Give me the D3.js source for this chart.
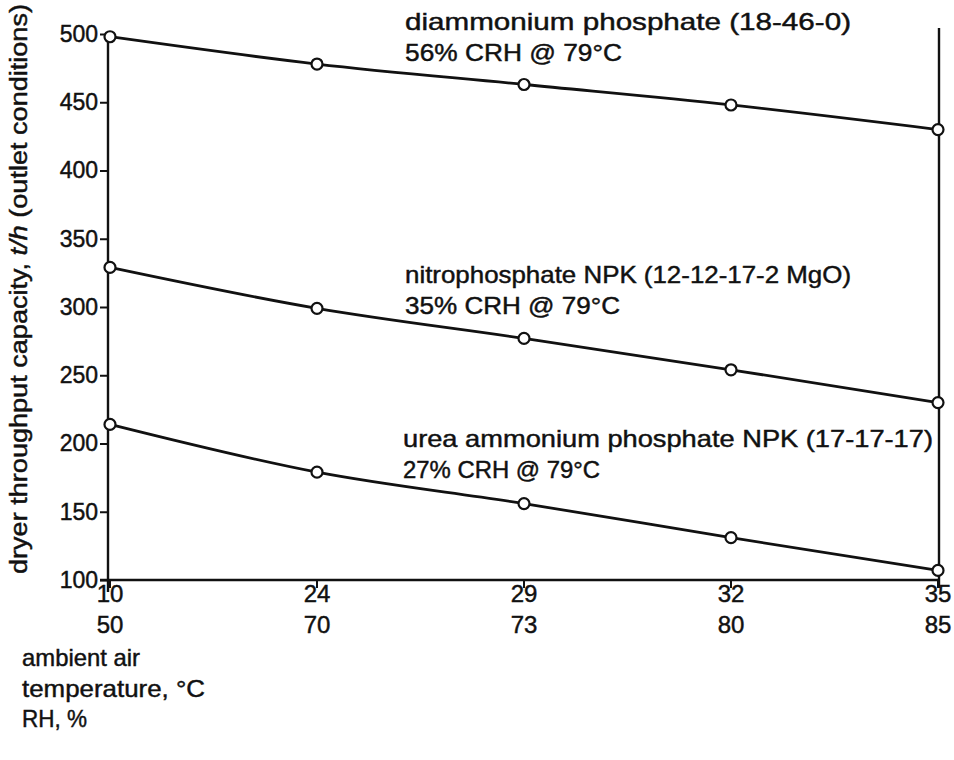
<!DOCTYPE html>
<head>
<meta charset="utf-8">
<title>Dryer throughput capacity</title>
<style>
  body { margin: 0; background: #fff; }
  text { font-family: "Liberation Sans", Arial, sans-serif; fill: #111; stroke: #111; stroke-width: 0.45px; }
</style>
</head>
<body>
<script src="https://d3js.org/d3.v7.min.js"></script>
<script>
// data
let tempLabels = ["10", "24", "29", "32", "35"];
let rhLabels = ["50", "70", "73", "80", "85"];
let yTicks = [100, 150, 200, 250, 300, 350, 400, 450, 500];

let diammonium = [498, 478, 463, 448, 430];
let nitrophosphate = [329, 299, 277, 254, 230];
let ureaAmmonium = [214, 179, 156, 131, 107];

let seriesNames = [
  ["diammonium phosphate (18-46-0)", "56% CRH @ 79°C"],
  ["nitrophosphate NPK (12-12-17-2 MgO)", "35% CRH @ 79°C"],
  ["urea ammonium phosphate NPK (17-17-17)", "27% CRH @ 79°C"]
];

let width = 954, height = 760;
let svg = d3.select("body").append("svg")
  .attr("width", width)
  .attr("height", height);

let x = d3.scalePoint()
  .domain(tempLabels)
  .range([110, 938]);

let y = d3.scaleLinear()
  .domain([100, 500])
  .range([580, 34]);

// left axis
let yAxis = svg.append("g")
  .attr("transform", "translate(108,0)")
  .call(d3.axisLeft(y).tickValues(yTicks).tickSize(8).tickPadding(2));
yAxis.select(".domain").remove();
yAxis.selectAll("line").attr("stroke", "#111").attr("stroke-width", 2);
yAxis.selectAll("text")
  .style("font-size", "23px")
  .attr("fill", "#111")
  .text(d => d);

svg.append("line")
  .attr("x1", 108).attr("x2", 108)
  .attr("y1", y(500) + 8).attr("y2", y(100) + 12)
  .attr("stroke", "#111").attr("stroke-width", 2.4);

// right border line
svg.append("line")
  .attr("x1", 939).attr("x2", 939)
  .attr("y1", 28).attr("y2", y(100) + 8)
  .attr("stroke", "#111").attr("stroke-width", 2.4);

// bottom axis
svg.append("line")
  .attr("x1", 100).attr("x2", 939)
  .attr("y1", y(100)).attr("y2", y(100))
  .attr("stroke", "#111").attr("stroke-width", 2.4);

svg.selectAll(".xtick")
  .data(tempLabels)
  .join("line")
  .attr("class", "xtick")
  .attr("x1", d => x(d)).attr("x2", d => x(d))
  .attr("y1", y(100)).attr("y2", y(100) + 8)
  .attr("stroke", "#111").attr("stroke-width", 2);

svg.selectAll(".xlab1")
  .data(tempLabels)
  .join("text")
  .attr("class", "xlab1")
  .attr("x", d => x(d))
  .attr("y", 602)
  .attr("text-anchor", "middle")
  .style("font-size", "24px")
  .text(d => d);

svg.selectAll(".xlab2")
  .data(rhLabels)
  .join("text")
  .attr("class", "xlab2")
  .attr("x", (d, i) => x(tempLabels[i]))
  .attr("y", 633)
  .attr("text-anchor", "middle")
  .style("font-size", "24px")
  .text(d => d);

// x axis title
let xTitle = ["ambient air", "temperature, °C", "RH, %"];
let xTitleLen = [118, 183, 65];
svg.selectAll(".xtitle")
  .data(xTitle)
  .join("text")
  .attr("class", "xtitle")
  .attr("x", 22)
  .attr("y", (d, i) => 666 + i * 30.5)
  .attr("textLength", (d, i) => xTitleLen[i])
  .attr("lengthAdjust", "spacingAndGlyphs")
  .style("font-size", "24px")
  .text(d => d);

// y axis title
let yTitle = svg.append("text")
  .attr("transform", "translate(27,289) rotate(-90)")
  .attr("text-anchor", "middle")
  .attr("textLength", 570)
  .attr("lengthAdjust", "spacingAndGlyphs")
  .style("font-size", "23px");
yTitle.append("tspan").text("dryer throughput capacity, ");
yTitle.append("tspan").style("font-style", "italic").text("t/h");
yTitle.append("tspan").text(" (outlet conditions)");

// lines and markers
let line = d3.line()
  .x((d, i) => x(tempLabels[i]))
  .y(d => y(d))
  .curve(d3.curveMonotoneX);

let allSeries = [diammonium, nitrophosphate, ureaAmmonium];

svg.selectAll(".series")
  .data(allSeries)
  .join("path")
  .attr("class", "series")
  .attr("d", line)
  .attr("fill", "none")
  .attr("stroke", "#111")
  .attr("stroke-width", 2.8);

allSeries.forEach(function (s) {
  svg.selectAll(null)
    .data(s)
    .join("circle")
    .attr("cx", (d, i) => x(tempLabels[i]))
    .attr("cy", d => y(d))
    .attr("r", 5.5)
    .attr("fill", "#fff")
    .attr("stroke", "#111")
    .attr("stroke-width", 2.2);
});

// annotations
let labelPos = [[405, 30], [405, 283], [403, 447]];
let labelLen = [[446, 217], [446, 215], [530, 197]];
seriesNames.forEach(function (lines, i) {
  lines.forEach(function (t, j) {
    svg.append("text")
      .attr("x", labelPos[i][0])
      .attr("y", labelPos[i][1] + j * 31)
      .attr("textLength", labelLen[i][j])
      .attr("lengthAdjust", "spacingAndGlyphs")
      .style("font-size", "24px")
      .text(t);
  });
});
</script>
</body>
